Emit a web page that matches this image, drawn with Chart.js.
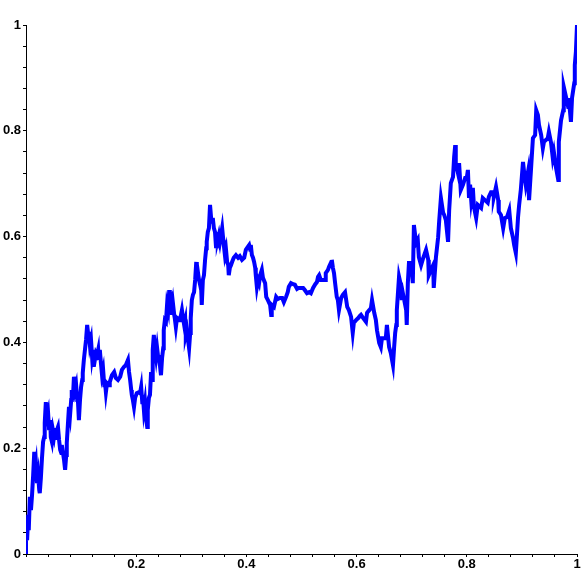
<!DOCTYPE html>
<html>
<head>
<meta charset="utf-8">
<script src="https://cdn.jsdelivr.net/npm/chart.js@4"></script>
<style>
  body { margin: 0; background: #fff; }
  canvas { display: block; }
</style>
</head>
<body>
<canvas id="walkChart" width="584" height="584"></canvas>
<script>
// x positions of the path
var xs = [
  0, 0, .002, .004, .005, .007, .009, .011, .013, .015, .016, .018, .020, .022, .024, .025, .027, .029, .031, .033,
  .034, .036, .038, .040, .042, .044, .045, .047, .049, .051, .053, .054, .056, .058, .060, .062, .064, .065, .069, .071,
  .073, .074, .076, .078, .080, .082, .083, .085, .087, .089, .091, .093, .094, .096, .098, .100, .102, .103, .105, .107,
  .109, .111, .113, .114, .116, .118, .120, .122, .123, .125, .127, .129, .131, .132, .134, .136, .138, .140, .142, .143,
  .145, .147, .151, .152, .156, .160, .163, .167, .171, .174, .178, .181, .185, .187, .189, .191, .192, .194, .196, .198,
  .201, .205,
  .207, .209, .211, .212, .214, .216, .218, .220, .221, .223, .225, .227, .229, .230, .232, .234, .236, .238, .240, .241,
  .243, .245, .247, .249, .250, .252, .254, .256, .258, .260, .261, .263, .265, .267, .269, .270, .272, .274, .278, .279,
  .281, .283, .285, .287, .289, .290, .292, .294, .296, .298, .299, .301, .303, .305, .307, .309, .310, .312, .314, .316,
  .318, .319, .321, .323, .325, .327, .328, .330, .332, .334, .336, .338, .339, .341, .343, .345, .347, .348, .350, .352,
  .354, .356, .358, .359, .361, .363, .365, .367, .368, .370, .372, .374, .377, .381, .385, .388, .392, .396, .399, .401,
  .405,
  .407, .408, .410, .412, .414, .416, .417, .419, .421, .423, .425, .428, .430, .434, .436, .439, .443, .445, .446, .450,
  .454, .457, .461, .465, .468, .472, .475, .477, .481, .485, .488, .492, .495, .499, .503, .506, .510, .514, .517, .521,
  .525, .528, .530, .532, .535, .539, .543, .544, .548, .550, .554, .555, .557, .559, .561, .564, .566, .568, .572, .575,
  .579, .583, .586, .590, .593, .595, .599, .603,
  .606, .608, .612, .613, .617, .619, .623, .626, .628, .632, .635, .637, .641, .644, .646, .650, .653, .655, .659, .662,
  .666, .668, .670, .672, .673, .677, .681, .682, .684, .690, .691, .693, .695, .699, .702, .704, .708, .711, .713, .717,
  .721, .726, .730, .731, .735, .739, .740, .744, .748, .750, .753, .757, .759, .762, .766, .768, .771, .775, .777, .779,
  .780, .784, .786, .789, .793, .797, .800,
  .802, .804, .806, .808, .811, .813, .817, .820, .826, .829, .833, .838, .840, .844, .848, .849, .853, .857, .858, .862,
  .866, .869, .873, .877, .880, .884, .886, .889, .893, .895, .898, .902, .904, .907, .911, .913, .917, .920, .924, .926,
  .929, .931, .935, .938, .940, .944, .947, .949, .953, .956, .958, .962, .966, .967, .971, .975, .976, .980, .984, .985,
  .989, .991, .995, .996, .998, 1
];

// y values of the path
var ys = [
  0, .055, .026, .074, .045, .108, .083, .112, .149, .193, .159, .172, .134, .149, .121, .115, .144, .181, .212, .221,
  .248, .287, .259, .268, .234, .253, .221, .212, .234, .223, .238, .216, .234, .240, .216, .197, .191, .206, .178, .159,
  .187, .210, .244, .278, .263, .291, .310, .291, .335, .310, .319, .291, .295, .253, .291, .316, .329, .342, .367, .386,
  .405, .433, .414, .420, .395, .405, .372, .386, .354, .367, .380, .376, .386, .367, .386, .361, .338, .348, .319, .329,
  .306, .323, .319, .325, .338, .344, .333, .329, .335, .348, .354, .357, .367, .344, .329, .310, .301, .291, .278, .295,
  .304, .306,
  .304, .316, .287, .301, .272, .287, .257, .240, .272, .295, .301, .344, .329, .386, .414, .386, .371, .389, .371, .376,
  .357, .338, .371, .389, .423, .442, .439, .471, .461, .499, .480, .484, .452, .471, .452, .446, .429, .446, .442, .446,
  .450, .461, .446, .433, .442, .414, .423, .405, .389, .418, .446, .480, .490, .495, .518, .552, .527, .533, .518, .509,
  .499, .471, .518, .527, .556, .578, .590, .609, .616, .660, .635, .628, .635, .616, .609, .578, .597, .594, .603, .590,
  .603, .616, .594, .584, .565, .575, .552, .546, .527, .541, .546, .552, .560, .565, .560, .563, .556, .560, .575, .578,
  .584,
  .575, .584, .565, .560, .552, .541, .527, .505, .518, .512, .527, .537, .522, .512, .486, .480, .471, .452, .471, .467,
  .486, .482, .484, .484, .476, .486, .495, .505, .512, .510, .509, .501, .503, .503, .503, .499, .493, .495, .493, .503,
  .510, .514, .524, .527, .518, .518, .518, .531, .537, .543, .552, .556, .541, .531, .512, .486, .480, .461, .484, .490,
  .495, .467, .461, .448, .418, .437, .442, .446,
  .450, .452, .446, .446, .439, .456, .461, .465, .480, .456, .442, .423, .399, .391, .408, .408, .408, .433, .391, .380,
  .357, .389, .418, .433, .461, .524, .505, .480, .493, .461, .433, .512, .550, .550, .512, .622, .588, .594, .561, .546,
  .560, .575, .556, .527, .537, .546, .503, .561, .599, .631, .673, .645, .641, .631, .590, .650, .701, .713, .750, .773,
  .739, .720, .739, .688, .698, .711, .711,
  .726, .673, .698, .669, .692, .656, .635, .660, .654, .673, .669, .664, .675, .684, .684, .675, .694, .669, .647, .641,
  .616, .635, .637, .650, .616, .597, .584, .569, .637, .660, .688, .741, .722, .698, .722, .669, .735, .786, .792, .839,
  .830, .811, .792, .767, .779, .783, .786, .798, .777, .749, .760, .730, .707, .779, .820, .839, .883, .864, .845, .862,
  .817, .862, .890, .924, .949, 1
];

var tickStep = 0.04;
var labelStep = 0.2;

var points = xs.map(function (x, i) {
  return { x: x, y: ys[i] };
});

function majorLabel(value) {
  var k = Math.round(value * 100);
  if (k % Math.round(labelStep * 100) !== 0) return "";
  return String(Math.round(value * 10) / 10);
}

var axisFont = { family: "Liberation Sans", size: 13, weight: "bold" };

var ctx = document.getElementById("walkChart").getContext("2d");
var myChart = new Chart(ctx, {
  type: "scatter",
  data: {
    datasets: [
      {
        data: points,
        showLine: true,
        borderColor: "rgb(0, 0, 255)",
        borderWidth: 4,
        pointRadius: 0,
        tension: 0,
        fill: false,
      },
    ],
  },
  options: {
    responsive: false,
    animation: false,
    layout: { padding: { top: 25, right: 7, left: 0, bottom: 0 } },
    plugins: {
      legend: { display: false },
      tooltip: { enabled: false },
    },
    scales: {
      x: {
        type: "linear",
        min: 0,
        max: 1,
        afterFit: function (scale) { scale.height = 30; },
        border: { display: true, color: "#000", width: 1 },
        grid: { drawOnChartArea: false, drawTicks: true, tickLength: 3, color: "#000" },
        ticks: {
          stepSize: tickStep,
          autoSkip: false,
          maxRotation: 0,
          padding: 0,
          color: "#000",
          font: axisFont,
          callback: function (v) {
            if (Math.abs(v) < 1e-9) return "";
            return majorLabel(v);
          },
        },
      },
      y: {
        type: "linear",
        min: 0,
        max: 1,
        afterFit: function (scale) { scale.width = 26; },
        border: { display: true, color: "#000", width: 1 },
        grid: { drawOnChartArea: false, drawTicks: true, tickLength: 3, color: "#000" },
        ticks: {
          stepSize: tickStep,
          autoSkip: false,
          padding: 2,
          color: "#000",
          font: axisFont,
          callback: function (v) { return majorLabel(v); },
        },
      },
    },
  },
});
</script>
</body>
</html>
